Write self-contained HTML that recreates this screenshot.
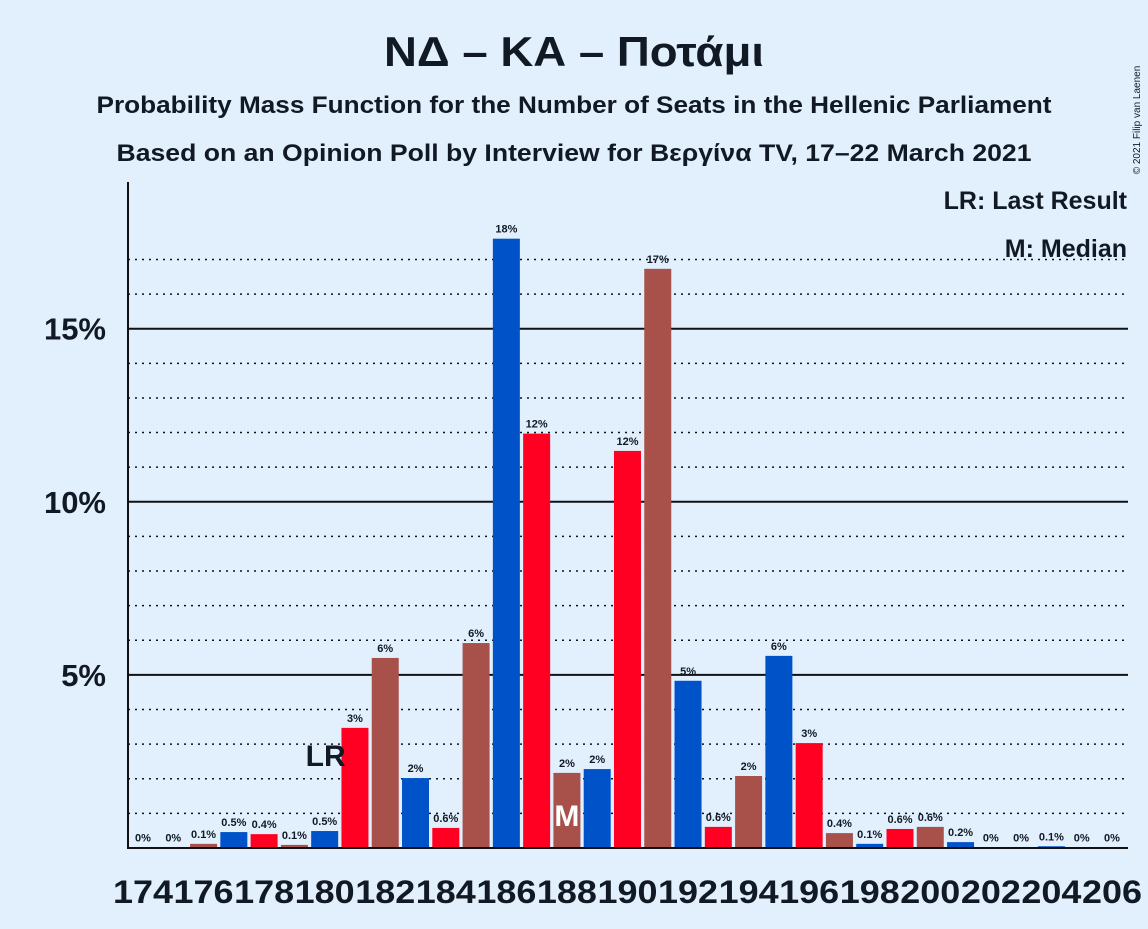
<!DOCTYPE html>
<html><head><meta charset="utf-8"><style>
body{margin:0;background:#e2f0fd;font-family:"Liberation Sans",sans-serif;}
svg text{font-family:"Liberation Sans",sans-serif;fill:#111a24;font-weight:bold;}
</style></head><body>
<svg id="chart" width="1148" height="924" xmlns="http://www.w3.org/2000/svg">
<rect width="1148" height="924" fill="#e2f0fd"/>
<text x="574" y="66" text-anchor="middle" font-size="42" textLength="380" lengthAdjust="spacingAndGlyphs">ΝΔ – ΚΑ – Ποτάμι</text>
<text x="574" y="113" text-anchor="middle" font-size="24" textLength="955" lengthAdjust="spacingAndGlyphs">Probability Mass Function for the Number of Seats in the Hellenic Parliament</text>
<text x="574" y="161" text-anchor="middle" font-size="24" textLength="915" lengthAdjust="spacingAndGlyphs">Based on an Opinion Poll by Interview for Βεργίνα TV, 17–22 March 2021</text>
<text x="1140" y="120" font-size="10" transform="rotate(-90 1140 120)" text-anchor="middle" style="font-weight:normal">© 2021 Filip van Laenen</text>
<text x="1127" y="209" text-anchor="end" font-size="25">LR: Last Result</text>
<text x="1127" y="257" text-anchor="end" font-size="25">M: Median</text>
<g id="grid"></g><g id="bars"></g><g id="labels"></g>
<line x1="128" y1="182" x2="128" y2="849" stroke="#111" stroke-width="2"/>
<line x1="127" y1="848" x2="1128" y2="848" stroke="#111" stroke-width="2"/>
</svg>
<script>
const seats=[174,175,176,177,178,179,180,181,182,183,184,185,186,187,188,189,190,191,192,193,194,195,196,197,198,199,200,201,202,203,204,205,206];
const probs=[0.01,0.01,0.12,0.46,0.4,0.09,0.49,3.47,5.49,2.02,0.58,5.92,17.6,11.97,2.17,2.28,11.47,16.73,4.83,0.61,2.08,5.55,3.03,0.43,0.12,0.55,0.61,0.17,0.02,0.02,0.05,0.01,0.01];
const valueLabels=["0%","0%","0.1%","0.5%","0.4%","0.1%","0.5%","3%","6%","2%","0.6%","6%","18%","12%","2%","2%","12%","17%","5%","0.6%","2%","6%","3%","0.4%","0.1%","0.6%","0.6%","0.2%","0%","0%","0.1%","0%","0%"];
const yTicks=[5,10,15];
const lastResult=180, median=188;
const NS="http://www.w3.org/2000/svg";
const xS=s=>143+(s-174)*30.28;
const yS=p=>848-p*34.62;
const colors=["#0052c8","#ff0022","#a8514a"];
function mk(t,a,parent){const e=document.createElementNS(NS,t);for(const k in a)e.setAttribute(k,a[k]);document.getElementById(parent).appendChild(e);return e;}
for(let p=1;p<=17;p++){
  const solid=yTicks.includes(p);
  const l=mk('line',{x1:128,x2:1128,y1:yS(p),y2:yS(p),stroke:'#111','stroke-width':solid?2:1.5,'stroke-dasharray':solid?'':'2,5'},'grid');
  
  
}
yTicks.forEach(t=>{
  const e=mk('text',{x:106,y:yS(t)+11,'text-anchor':'end','font-size':31},'grid');e.textContent=t+'%';
  
  
});
seats.forEach((s,i)=>{
  const x=xS(s),y=yS(probs[i]);
  const r=mk('rect',{x:x-13.5,y:y,width:27,height:848-y,fill:colors[(s-174)%3]},'bars');
  
  
  const t=mk('text',{x:x,y:y-6,'text-anchor':'middle','font-size':11},'labels');t.textContent=valueLabels[i];
  
  
  if(s%2===0){
    const tk=mk('text',{x:x,y:903,'text-anchor':'middle','font-size':32,textLength:60,lengthAdjust:'spacingAndGlyphs'},'labels');tk.textContent=s;
    
    
  }
});
const lr=mk('text',{x:xS(lastResult)+1,y:766,'text-anchor':'middle','font-size':30},'labels');lr.textContent='LR';


const md=mk('text',{x:xS(median),y:826,'text-anchor':'middle','font-size':30},'labels');md.textContent='M';md.style.fill='#fff';


</script>
</body></html>
